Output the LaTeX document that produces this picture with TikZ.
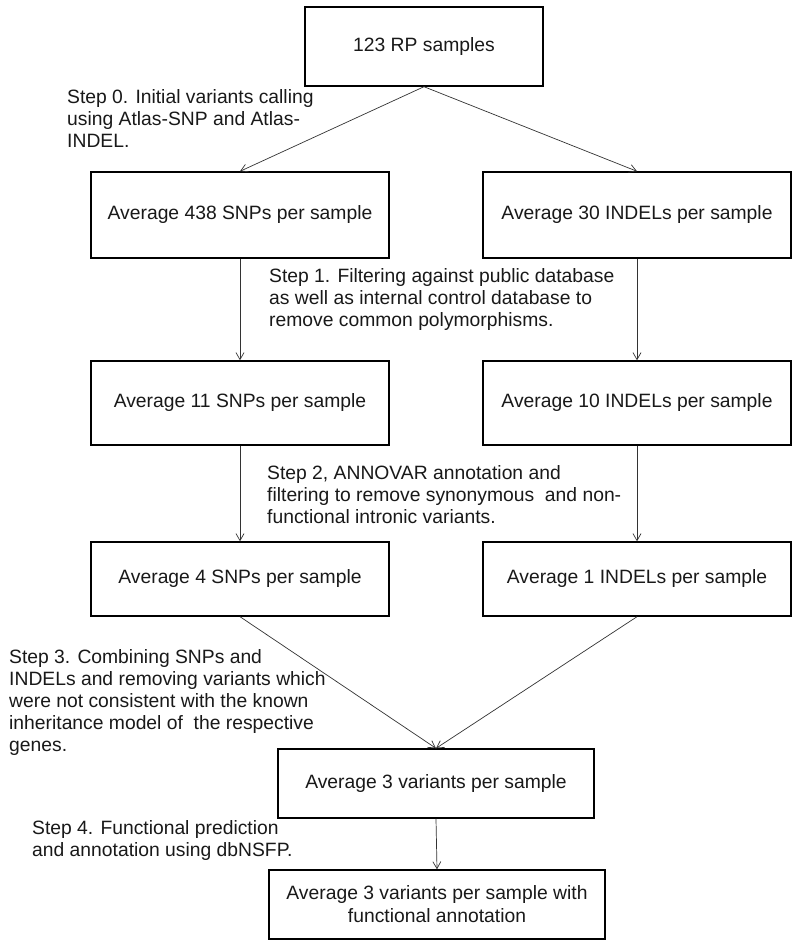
\documentclass[tikz,border=0pt]{standalone}
\usepackage{fontspec}
\setmainfont{Liberation Sans}
\usetikzlibrary{arrows.meta}
\begin{document}
\begin{tikzpicture}[x=1pt,y=-1pt,
  box/.style={draw=black, line width=1.4pt, inner sep=0pt, align=center,
    text=black!90, font=\fontsize{19.3}{23}\selectfont},
  lbl/.style={anchor=north west, align=left, inner sep=0pt, text=black!90,
    font=\fontsize{19.3}{22}\selectfont},
  arr/.style={draw=black!80, line width=0.7pt, -{Straight Barb[length=7pt,width=8pt]}}]
\useasboundingbox (0,0) rectangle (800,948);
\fill[white] (0,0) rectangle (800,948);
% boxes
\node[box, minimum width=238pt, minimum height=79pt] (b1) at (424,46.5) {123 RP samples};
\node[box, minimum width=298pt, minimum height=86pt] (b2) at (240,215) {Average 438 SNPs per sample};
\node[box, minimum width=308pt, minimum height=86pt] (b3) at (637,215) {Average 30 INDELs per sample};
\node[box, minimum width=298pt, minimum height=84pt] (b4) at (240,403) {Average 11 SNPs per sample};
\node[box, minimum width=308pt, minimum height=84pt] (b5) at (637,403) {Average 10 INDELs per sample};
\node[box, minimum width=298pt, minimum height=74pt] (b6) at (240,579) {Average 4 SNPs per sample};
\node[box, minimum width=308pt, minimum height=74pt] (b7) at (637,579) {Average 1 INDELs per sample};
\node[box, minimum width=316pt, minimum height=69pt] (b8) at (436,783.5) {Average 3 variants per sample};
\node[box, minimum width=336pt, minimum height=69pt] (b9) at (437,904.5) {Average 3 variants per sample with\\functional annotation};
% labels
\node[lbl] (s0) at (67,89) {Step 0. Initial variants calling\\using Atlas-SNP and Atlas-\\INDEL.};
\node[lbl] (s1) at (269,268) {Step 1. Filtering against public database\\as well as internal control database to\\remove common polymorphisms.};
\node[lbl] (s2) at (267,465) {Step 2, ANNOVAR annotation and\\filtering to remove synonymous\ \ and non-\\functional intronic variants.};
\node[lbl] (s3) at (9,649) {Step 3. Combining SNPs and\\INDELs and removing variants which\\were not consistent with the known\\inheritance model of\ \ the respective\\genes.};
\node[lbl] (s4) at (32,820) {Step 4. Functional prediction\\and annotation using dbNSFP.};
% connectors
\draw[arr] (b1.south) -- (b2.north);
\draw[arr] (b1.south) -- (b3.north);
\draw[arr] (b2.south) -- (b4.north);
\draw[arr] (b3.south) -- (b5.north);
\draw[arr] (b4.south) -- (b6.north);
\draw[arr] (b5.south) -- (b7.north);
\draw[arr] (b6.south) -- (b8.north);
\draw[arr] (b7.south) -- (b8.north);
\draw[arr] (b8.south) -- (b9.north);
\end{tikzpicture}
\end{document}
